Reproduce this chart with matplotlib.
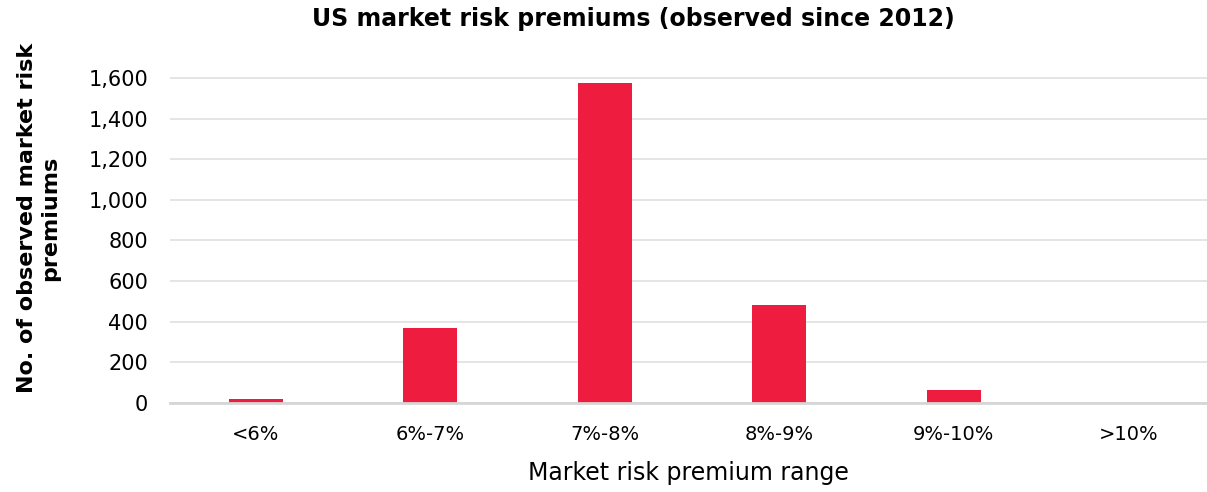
import numpy as np
import matplotlib.pyplot as plt

categories = ["<6%", "6%-7%", "7%-8%", "8%-9%", "9%-10%", ">10%"]
counts = [20, 370, 1575, 480, 62, 0]
yticks = [0, 200, 400, 600, 800, 1000, 1200, 1400, 1600]

plt.rcParams["font.family"] = ["DejaVu Sans"]

fig = plt.figure(figsize=(12.07, 4.92), dpi=100)
ax = fig.add_axes([0.141, 0.181, 0.859, 0.664])

x = np.arange(len(categories))
ax.bar(x, counts, width=0.31, color="#EE1C3E", zorder=3)

ax.set_xlim(-0.49, 5.45)
ax.set_ylim(0, 1608)
ax.set_yticks(yticks)
ax.set_yticklabels([f"{v:,}" for v in yticks], fontsize=15)
ax.set_xticks(x)
ax.set_xticklabels(categories, fontsize=14)
ax.tick_params(axis="both", length=0, colors="black")
ax.tick_params(axis="x", pad=16)
ax.tick_params(axis="y", pad=16)

ax.grid(axis="y", color="#E3E3E3", lw=1.3, zorder=0)
for s in ["top", "right", "left"]:
    ax.spines[s].set_visible(False)
ax.spines["bottom"].set_color("#D6D6D6")
ax.spines["bottom"].set_linewidth(2)
ax.spines["bottom"].set_zorder(4)

ax.set_xlabel("Market risk premium range", fontsize=17, labelpad=12)
ax.set_ylabel("No. of observed market risk\npremiums", fontsize=16, fontweight="bold", labelpad=20)
ax.yaxis.label.set_y(0.565)
fig.suptitle("US market risk premiums (observed since 2012)", fontsize=17, fontweight="bold", x=0.525, y=0.985)

fig.savefig("out.png", dpi=100)
